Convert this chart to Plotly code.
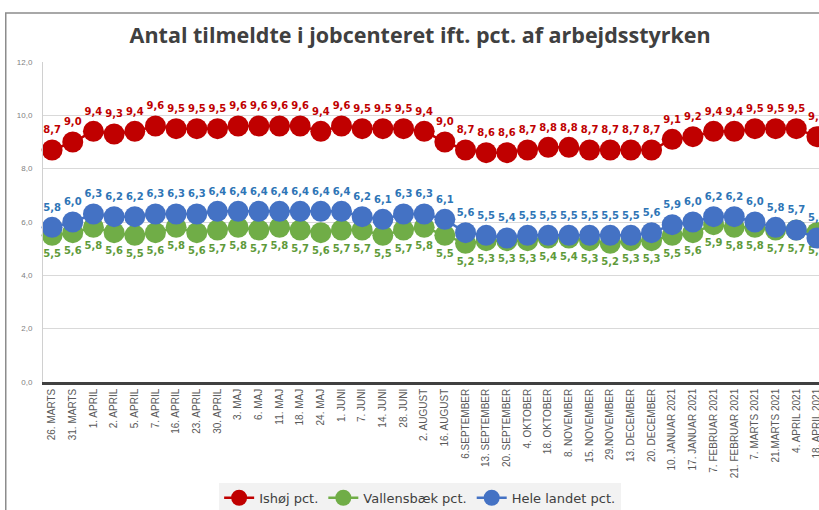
import plotly.graph_objects as go

categories = [
    "26. MARTS", "31. MARTS", "1. APRIL", "2. APRIL", "5. APRIL", "7. APRIL",
    "16. APRIL", "23. APRIL", "30. APRIL", "3. MAJ", "6. MAJ", "11. MAJ",
    "18. MAJ", "24. MAJ", "1. JUNI", "7. JUNI", "14. JUNI", "28. JUNI",
    "2. AUGUST", "16. AUGUST", "6.SEPTEMBER", "13. SEPTEMBER", "20. SEPTEMBER",
    "4. OKTOBER", "18. OKTOBER", "8. NOVEMBER", "15. NOVEMBER", "29.NOVEMBER",
    "13. DECEMBER", "20. DECEMBER", "10. JANUAR 2021", "17. JANUAR 2021",
    "7. FEBRUAR 2021", "21. FEBRUAR 2021", "7. MARTS 2021", "21.MARTS 2021",
    "4. APRIL 2021", "18. APRIL 2021",
]

ishoj = [8.7, 9.0, 9.4, 9.3, 9.4, 9.6, 9.5, 9.5, 9.5, 9.6, 9.6, 9.6, 9.6, 9.4,
         9.6, 9.5, 9.5, 9.5, 9.4, 9.0, 8.7, 8.6, 8.6, 8.7, 8.8, 8.8, 8.7, 8.7,
         8.7, 8.7, 9.1, 9.2, 9.4, 9.4, 9.5, 9.5, 9.5, 9.2]

vallensbaek = [5.5, 5.6, 5.8, 5.6, 5.5, 5.6, 5.8, 5.6, 5.7, 5.8, 5.7, 5.8, 5.7,
               5.6, 5.7, 5.7, 5.5, 5.7, 5.8, 5.5, 5.2, 5.3, 5.3, 5.3, 5.4, 5.4,
               5.3, 5.2, 5.3, 5.3, 5.5, 5.6, 5.9, 5.8, 5.8, 5.7, 5.7, 5.6]

hele_landet = [5.8, 6.0, 6.3, 6.2, 6.2, 6.3, 6.3, 6.3, 6.4, 6.4, 6.4, 6.4, 6.4,
               6.4, 6.4, 6.2, 6.1, 6.3, 6.3, 6.1, 5.6, 5.5, 5.4, 5.5, 5.5, 5.5,
               5.5, 5.5, 5.5, 5.6, 5.9, 6.0, 6.2, 6.2, 6.0, 5.8, 5.7, 5.4]

y_ticks = [0, 2, 4, 6, 8, 10, 12]
y_tick_labels = ["0,0", "2,0", "4,0", "6,0", "8,0", "10,0", "12,0"]

series = [
    ("Ishøj pct.", ishoj, "#C00000", "#C00000", "top center"),
    ("Vallensbæk pct.", vallensbaek, "#70AD47", "#5E9A3A", "bottom center"),
    ("Hele landet pct.", hele_landet, "#4472C4", "#2E75B6", "top center"),
]


def fmt(v):
    return f"{v:.1f}".replace(".", ",")


fig = go.Figure()
for name, vals, color, tcolor, tpos in series:
    fig.add_trace(go.Scatter(
        x=categories, y=vals, name=name,
        mode="lines+markers+text",
        line=dict(color=color, width=2.5),
        marker=dict(color=color, size=21, line=dict(width=0)),
        text=[fmt(v) for v in vals],
        textposition=tpos,
        textfont=dict(family="DejaVu Sans", size=10, color=tcolor, weight="bold"),
        cliponaxis=False,
    ))

fig.update_layout(
    width=819, height=510,
    margin=dict(l=43, r=0, t=62, b=128, autoexpand=False),
    paper_bgcolor="white", plot_bgcolor="white",
    title=dict(
        text="<b>Antal tilmeldte i jobcenteret ift. pct. af arbejdsstyrken</b>",
        x=0.513, xref="container", xanchor="center",
        y=0.93, yref="container", yanchor="middle",
        font=dict(family="Open Sans", size=21.5, color="#404040"),
    ),
    xaxis=dict(
        type="category", range=[-0.44, 37.1], automargin=False,
        tickangle=-90, tickfont=dict(family="Liberation Sans", size=10, color="#595959"),
        showgrid=False, showline=True, linecolor="#404040", linewidth=2.5,
        ticks="", ticklen=0,
    ),
    yaxis=dict(
        range=[0, 12], tickvals=y_ticks, ticktext=y_tick_labels, automargin=False,
        tickfont=dict(family="Liberation Sans", size=8, color="#7F7F7F"),
        showgrid=True, gridcolor="#D9D9D9", gridwidth=1,
        showline=True, linecolor="#D0D0D0", linewidth=1,
        zeroline=False, ticks="", ticklabelstandoff=8,
    ),
    legend=dict(
        orientation="h", x=0.486, xanchor="center", y=-0.315, yanchor="top",
        bgcolor="#F2F2F2", font=dict(family="DejaVu Sans", size=13, color="#404040"),
        itemwidth=30, tracegroupgap=0,
    ),
    showlegend=True,
    hovermode=False,
    shapes=[
        dict(type="rect", xref="paper", yref="paper",
             x0=-0.048, x1=1.2, y0=-0.45, y1=1.153,
             line=dict(color="#8C8C8C", width=1.5), fillcolor="rgba(0,0,0,0)", layer="below"),
    ],
)

fig.write_html(
    "out.html",
    config={"displayModeBar": False},
    post_script="document.body.style.margin='0';document.body.style.padding='0';",
)
